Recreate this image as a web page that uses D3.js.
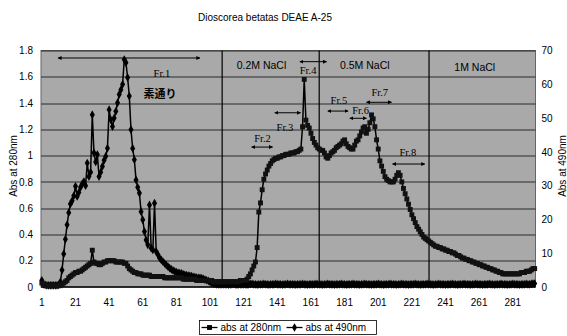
<!DOCTYPE html>
<html>
<head>
<meta charset="utf-8">
<script src="https://cdn.jsdelivr.net/npm/d3@7"></script>
<style>
  body { margin: 0; background: #fff; }
  text { fill: #000; }
  .tick text { font-family: "Liberation Sans Narrow", "Liberation Sans", Arial, sans-serif; font-size: 10px; }
  .title { font-family: "Liberation Sans Narrow", "Liberation Sans", Arial, sans-serif; font-size: 10px; }
  .label { font-family: "Liberation Sans", Arial, sans-serif; font-size: 10px; }
  .zone { font-family: "Liberation Sans Narrow", "Liberation Sans", Arial, sans-serif; font-size: 10.5px; }
  .fr { font-family: "Liberation Serif", "DejaVu Serif", serif; font-size: 10.5px; }
  .jp { font-family: "Noto Sans CJK JP", sans-serif; font-size: 11px; font-weight: bold; }
</style>
</head>
<body>
<div id="chart"></div>
<script>
// fraction numbers (x categories)
const fractions = d3.range(1, 295);
const xTickLabels = [1, 21, 41, 61, 81, 101, 121, 141, 161, 181, 201, 221, 241, 261, 281];
const leftTicks = [0, 0.2, 0.4, 0.6, 0.8, 1, 1.2, 1.4, 1.6, 1.8];
const rightTicks = [0, 10, 20, 30, 40, 50, 60, 70];

// abs at 280nm (left axis), one value per fraction
const abs280 = [
  0.03,0.02,0.02,0.01,0.01,0.01,0.01,0.01,0.01,0.01,
  0.01,0.01,0.02,0.03,0.04,0.05,0.07,0.08,0.09,0.10,
  0.11,0.11,0.12,0.12,0.13,0.14,0.15,0.16,0.17,0.18,
  0.28,0.19,0.18,0.18,0.17,0.17,0.18,0.19,0.19,0.20,
  0.20,0.20,0.20,0.20,0.19,0.19,0.19,0.19,0.19,0.18,
  0.18,0.16,0.14,0.13,0.12,0.11,0.11,0.10,0.10,0.10,
  0.09,0.09,0.09,0.09,0.09,0.08,0.08,0.08,0.08,0.08,
  0.08,0.08,0.08,0.07,0.07,0.07,0.07,0.07,0.07,0.07,
  0.07,0.07,0.07,0.07,0.06,0.06,0.06,0.06,0.06,0.06,
  0.06,0.06,0.05,0.05,0.05,0.05,0.05,0.05,0.05,0.05,
  0.05,0.05,0.04,0.04,0.04,0.04,0.04,0.04,0.04,0.04,
  0.04,0.04,0.04,0.04,0.04,0.04,0.04,0.04,0.05,0.05,
  0.05,0.05,0.06,0.08,0.10,0.13,0.16,0.19,0.30,0.57,
  0.64,0.74,0.82,0.86,0.89,0.92,0.94,0.96,0.97,0.98,
  0.98,0.99,0.99,1.00,1.00,1.01,1.01,1.01,1.02,1.02,
  1.02,1.03,1.03,1.04,1.05,1.22,1.58,1.27,1.23,1.21,
  1.17,1.13,1.10,1.08,1.06,1.05,1.04,1.04,1.02,0.99,
  0.98,1.00,1.02,1.03,1.04,1.06,1.07,1.08,1.09,1.11,
  1.12,1.09,1.07,1.06,1.05,1.05,1.08,1.11,1.12,1.15,
  1.18,1.21,1.22,1.17,1.20,1.25,1.31,1.28,1.22,1.12,
  1.05,0.96,0.92,0.88,0.84,0.82,0.81,0.80,0.80,0.80,
  0.82,0.85,0.87,0.85,0.80,0.75,0.71,0.67,0.63,0.59,
  0.55,0.52,0.49,0.46,0.44,0.42,0.40,0.38,0.37,0.36,
  0.35,0.34,0.33,0.32,0.31,0.31,0.30,0.30,0.29,0.29,
  0.28,0.28,0.27,0.27,0.26,0.26,0.25,0.24,0.24,0.23,
  0.22,0.22,0.21,0.21,0.20,0.20,0.19,0.19,0.18,0.18,
  0.17,0.17,0.16,0.16,0.15,0.15,0.14,0.14,0.13,0.13,
  0.12,0.12,0.11,0.11,0.10,0.10,0.10,0.10,0.10,0.10,
  0.10,0.10,0.10,0.10,0.10,0.11,0.11,0.11,0.12,0.12,
  0.12,0.13,0.14,0.14
];

// abs at 490nm (right axis), one value per fraction
const abs490 = [
  2.0,0.8,0.6,0.5,0.5,0.5,0.5,0.5,0.5,0.5,
  0.6,1.5,5.0,9.8,14.1,18.4,22.0,24.6,25.5,27.0,
  29.8,26.8,28.0,29.5,30.5,31.2,30.0,36.7,32.7,34.0,
  51.0,39.7,37.0,39.2,32.7,34.0,35.7,37.5,38.7,41.1,
  52.5,49.5,47.5,50.0,52.0,54.5,57.0,58.4,60.0,67.3,
  66.4,62.0,56.5,46.6,41.0,37.7,31.7,29.5,27.8,22.3,
  19.9,16.4,13.9,12.5,24.3,11.5,11.0,24.8,10.5,9.6,
  8.6,8.0,7.5,7.0,6.5,6.0,5.6,5.2,4.9,4.6,
  4.4,4.2,4.1,4.0,3.8,3.6,3.5,3.4,3.3,3.2,
  3.0,2.9,2.8,2.7,2.7,2.6,2.4,2.2,2.0,1.8,
  1.5,1.2,1.0,0.9,0.8,0.8,0.8,0.8,0.8,0.8,
  0.8,0.7,0.8,0.8,0.9,0.8,0.7,0.8,0.8,0.8,
  0.8,0.8,0.7,0.8,0.9,0.9,0.8,0.8,0.7,0.8,
  0.8,0.8,0.9,0.8,0.8,0.7,0.8,0.8,0.8,0.9,
  0.8,0.8,0.8,0.7,0.8,0.8,0.9,0.8,0.8,0.8,
  0.8,0.7,0.8,0.8,0.8,0.9,0.8,0.8,0.7,0.8,
  0.8,0.8,0.8,0.9,0.8,0.8,0.8,0.7,0.8,0.8,
  0.9,0.8,0.8,0.8,0.7,0.8,0.8,0.8,0.9,0.8,
  0.8,0.7,0.8,0.8,0.8,0.9,0.8,0.8,0.8,0.7,
  0.8,0.8,0.9,0.8,0.8,0.8,0.7,0.8,0.8,0.8,
  0.9,0.8,0.8,0.7,0.8,0.8,0.8,0.9,0.8,0.8,
  0.8,0.7,0.8,0.8,0.9,0.8,0.8,0.8,0.7,0.8,
  0.8,0.8,0.9,0.8,0.8,0.7,0.8,0.8,0.8,0.9,
  0.8,0.8,0.8,0.7,0.8,0.8,0.9,0.8,0.8,0.8,
  0.7,0.8,0.8,0.8,0.9,0.8,0.8,0.7,0.8,0.8,
  0.8,0.9,0.8,0.8,0.8,0.7,0.8,0.8,0.9,0.8,
  0.8,0.8,0.7,0.8,0.8,0.8,0.9,0.8,0.8,0.7,
  0.8,0.8,0.8,0.9,0.8,0.8,0.8,0.7,0.8,0.8,
  0.9,0.8,0.8,0.8,0.7,0.8,0.8,0.8,0.9,0.8,
  0.8,0.9,1.0,1.0
];

// salt steps (divider position in fraction units)
const dividers = [108.2, 165.9, 231.2];
const zones = [
  {text: "0.2M NaCl", f: 131.6, v: 1.66},
  {text: "0.5M NaCl", f: 193, v: 1.66},
  {text: "1M NaCl", f: 258.4, v: 1.645}
];
// fraction pools: label + double arrow (fraction from/to, height in left-axis units)
const pools = [
  {name: "Fr.1", tf: 72.4, tv: 1.60, from: 10.6, to: 95, av: 1.743},
  {name: "Fr.2", tf: 132.2, tv: 1.10, from: 125.7, to: 138.2, av: 1.065},
  {name: "Fr.3", tf: 145.5, tv: 1.19, from: 139.5, to: 154.8, av: 1.326},
  {name: "Fr.4", tf: 159.3, tv: 1.62, from: 154.4, to: 170.3, av: 1.715},
  {name: "Fr.5", tf: 177.6, tv: 1.39, from: 171, to: 183.1, av: 1.339},
  {name: "Fr.6", tf: 190.5, tv: 1.32, from: 184.1, to: 194, av: 1.284},
  {name: "Fr.7", tf: 201.9, tv: 1.45, from: 194, to: 208.9, av: 1.406},
  {name: "Fr.8", tf: 218.6, tv: 1.00, from: 209.5, to: 228.7, av: 0.936}
];

const margin = {top: 50.5, right: 31.5, bottom: 49, left: 41};
const width = 567 - margin.left - margin.right,
      height = 336 - margin.top - margin.bottom;

const svg = d3.select("#chart")
  .append("svg")
  .attr("width", 567)
  .attr("height", 336);

const chart = svg.append("g")
  .attr("transform", "translate(" + margin.left + "," + margin.top + ")");

const x = d3.scaleBand().domain(fractions).range([0, width]);
const xc = d => x(d) + x.bandwidth() / 2;
const xLin = d3.scaleLinear().domain([0.5, fractions.length + 0.5]).range([0, width]);
const yL = d3.scaleLinear().domain([0, 1.8]).range([height, 0]);
const yR = d3.scaleLinear().domain([0, 70]).range([height, 0]);

// plot area
chart.append("rect")
  .attr("width", width)
  .attr("height", height)
  .attr("fill", "#a9a9a9")
  .attr("stroke", "#666")
  .attr("stroke-width", 1);

// gridlines
chart.append("g")
  .selectAll("line")
  .data(leftTicks.slice(1))
  .enter().append("line")
  .attr("x1", 0).attr("x2", width)
  .attr("y1", d => Math.round(yL(d)) + 0.5)
  .attr("y2", d => Math.round(yL(d)) + 0.5)
  .attr("stroke", "#2a2a2a")
  .attr("stroke-width", 1);

// salt step dividers
chart.append("g")
  .selectAll("line")
  .data(dividers)
  .enter().append("line")
  .attr("x1", d => xLin(d)).attr("x2", d => xLin(d))
  .attr("y1", 0).attr("y2", height)
  .attr("stroke", "#000")
  .attr("stroke-width", 1.2);

// axes
const axL = chart.append("g")
  .call(d3.axisLeft(yL).tickValues(leftTicks).tickSize(0).tickPadding(8)
    .tickFormat(d => String(+d.toFixed(1))));
const axR = chart.append("g")
  .attr("transform", "translate(" + width + ",0)")
  .call(d3.axisRight(yR).tickValues(rightTicks).tickSize(0).tickPadding(6));
const axB = chart.append("g")
  .attr("transform", "translate(0," + height + ")")
  .call(d3.axisBottom(x).tickValues(xTickLabels).tickSize(0).tickPadding(12));
[axL, axR, axB].forEach(a => a.select(".domain").remove());

chart.append("line")
  .attr("x1", 0).attr("x2", width)
  .attr("y1", height).attr("y2", height)
  .attr("stroke", "#000").attr("stroke-width", 1.5);

// series
const line280 = d3.line().x((d, i) => xc(fractions[i])).y(d => yL(d));
const line490 = d3.line().x((d, i) => xc(fractions[i])).y(d => yR(d));

chart.append("path")
  .attr("d", line490(abs490))
  .attr("fill", "none").attr("stroke", "#000").attr("stroke-width", 1.5);
chart.append("path")
  .attr("d", line280(abs280))
  .attr("fill", "none").attr("stroke", "#000").attr("stroke-width", 1.5);

const diamond = d3.symbol().type(d3.symbolDiamond).size(22);
const square = d3.symbol().type(d3.symbolSquare).size(24);

chart.append("g")
  .selectAll("path")
  .data(abs490)
  .enter().append("path")
  .attr("d", diamond)
  .attr("transform", (d, i) => "translate(" + xc(fractions[i]) + "," + yR(d) + ")")
  .attr("fill", "#000");

chart.append("g")
  .selectAll("path")
  .data(abs280)
  .enter().append("path")
  .attr("d", square)
  .attr("transform", (d, i) => "translate(" + xc(fractions[i]) + "," + yL(d) + ")")
  .attr("fill", "#111");

// annotations
chart.append("g")
  .selectAll("text")
  .data(zones)
  .enter().append("text")
  .attr("class", "zone")
  .attr("x", d => xLin(d.f))
  .attr("y", d => yL(d.v))
  .attr("text-anchor", "middle")
  .text(d => d.text);

svg.append("defs").append("marker")
  .attr("id", "ah")
  .attr("viewBox", "0 0 10 10")
  .attr("refX", 9).attr("refY", 5)
  .attr("markerWidth", 4).attr("markerHeight", 4)
  .attr("orient", "auto-start-reverse")
  .append("path")
  .attr("d", "M0,0L10,5L0,10z")
  .attr("fill", "#000");

const pg = chart.append("g").selectAll("g").data(pools).enter().append("g");
pg.append("line")
  .attr("x1", d => xLin(d.from)).attr("x2", d => xLin(d.to))
  .attr("y1", d => yL(d.av)).attr("y2", d => yL(d.av))
  .attr("stroke", "#000").attr("stroke-width", 1)
  .attr("marker-start", "url(#ah)")
  .attr("marker-end", "url(#ah)");
pg.append("text")
  .attr("class", "fr")
  .attr("x", d => xLin(d.tf))
  .attr("y", d => yL(d.tv))
  .attr("text-anchor", "middle")
  .text(d => d.name);

chart.append("text")
  .attr("class", "jp")
  .attr("x", xLin(71.2))
  .attr("y", yL(1.44))
  .attr("text-anchor", "middle")
  .text("素通り");

// titles
svg.append("text")
  .attr("class", "title")
  .attr("x", 265).attr("y", 21)
  .attr("text-anchor", "middle")
  .text("Dioscorea betatas DEAE A-25");

svg.append("text")
  .attr("class", "label")
  .attr("transform", "translate(17,166) rotate(-90)")
  .attr("text-anchor", "middle")
  .text("Abs at 280nm");

svg.append("text")
  .attr("class", "label")
  .attr("transform", "translate(566,166) rotate(-90)")
  .attr("text-anchor", "middle")
  .text("Abs at 490nm");

// legend
const legend = svg.append("g").attr("transform", "translate(199.5,320.5)");
legend.append("rect")
  .attr("width", 177).attr("height", 14)
  .attr("fill", "#fff").attr("stroke", "#000").attr("stroke-width", 0.8);
const items = [
  {name: "abs at 280nm", sym: square, x: 2},
  {name: "abs at 490nm", sym: diamond, x: 87}
];
const li = legend.selectAll(".li").data(items).enter().append("g")
  .attr("transform", d => "translate(" + d.x + ",7)");
li.append("line").attr("x1", 0).attr("x2", 16)
  .attr("stroke", "#000").attr("stroke-width", 1.3);
li.append("path").attr("d", d => d.sym()).attr("transform", "translate(8,0)").attr("fill", "#000");
li.append("text")
  .attr("class", "label")
  .attr("x", 19).attr("y", 3.5)
  .text(d => d.name);
</script>
</body>
</html>
